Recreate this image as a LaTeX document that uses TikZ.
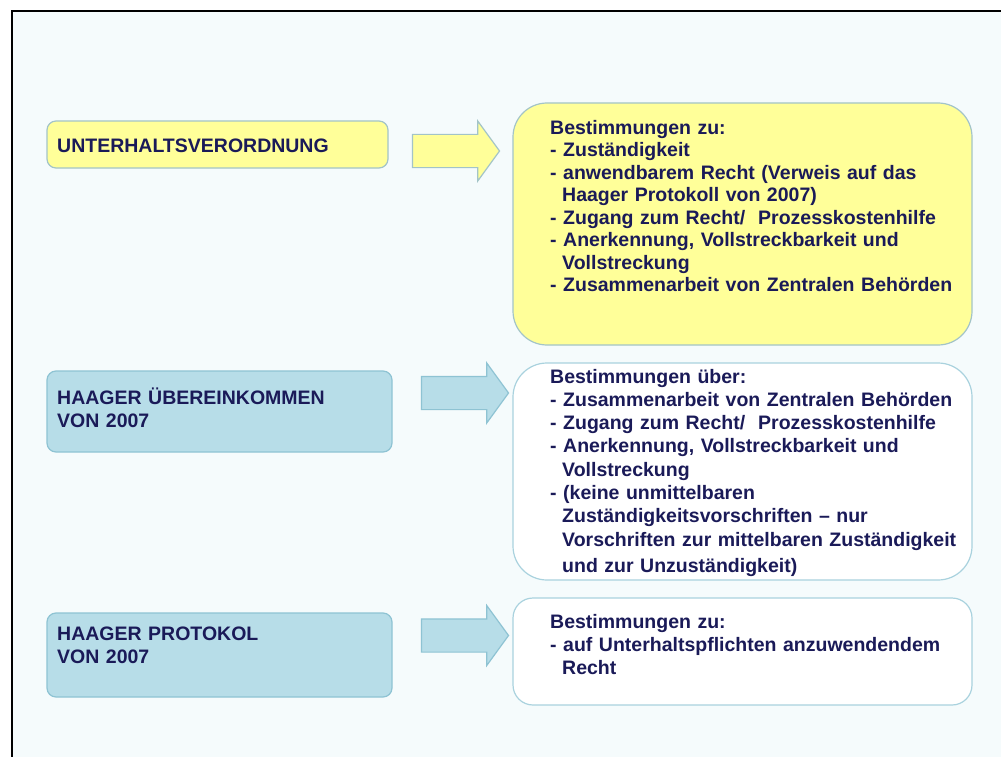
\documentclass[tikz,border=0pt]{standalone}
\usepackage{fontspec}
\setmainfont{Liberation Sans}[WordSpace=0.55]
\usetikzlibrary{shapes.arrows}
\definecolor{bgc}{HTML}{F5FBFC}
\definecolor{ylw}{HTML}{FFFF99}
\definecolor{ylwline}{HTML}{A3C4C8}
\definecolor{aqua}{HTML}{B7DDE8}
\definecolor{aqualine}{HTML}{8EC3D3}
\definecolor{whiteline}{HTML}{A9D2DE}
\definecolor{ink}{HTML}{1A1A58}
\tikzset{
  lbox/.style={draw=aqualine, fill=aqua, line width=1.2pt, rounded corners=9pt, inner sep=0pt},
  rbox/.style={draw=whiteline, fill=white, line width=1.2pt, rounded corners=34pt, inner sep=0pt},
  blockarrow/.style={single arrow, draw=aqualine, fill=aqua, line width=1.2pt, inner sep=16pt,
    single arrow head extend=13.5pt, single arrow tip angle=108, minimum height=87pt, anchor=center},
  ltxt/.style={anchor=base west, inner sep=0pt, text width=330pt, align=left, text=ink,
    font=\fontsize{19.5pt}{23pt}\selectfont\bfseries},
  rtxt/.style={anchor=base west, inner sep=0pt, text width=420pt, align=left, text=ink,
    font=\fontsize{19.5pt}{22.5pt}\selectfont\bfseries},
}
\newcommand{\ind}{\hspace*{12pt}}
\begin{document}
\begin{tikzpicture}[x=1pt,y=-1pt]
\useasboundingbox (0,0) rectangle (1001,757);
\fill[white] (0,0) rectangle (1001,757);
\fill[bgc] (12,11) rectangle (1001,757);
\draw[line width=2pt, black] (12,757) -- (12,11) -- (1001,11);

% left boxes
\node[lbox, fill=ylw, draw=ylwline, minimum width=341pt, minimum height=47pt] (l1) at (217.5,144.5) {};
\node[lbox, minimum width=345pt, minimum height=81pt] (l2) at (219.5,411.5) {};
\node[lbox, minimum width=345pt, minimum height=84pt] (l3) at (219.5,655) {};

% right boxes
\node[rbox, fill=ylw, draw=ylwline, minimum width=459pt, minimum height=242pt] (r1) at (742.5,224) {};
\node[rbox, minimum width=459pt, minimum height=217pt] (r2) at (742.5,471.5) {};
\node[rbox, rounded corners=20pt, minimum width=459pt, minimum height=107pt] (r3) at (742.5,651.5) {};

% arrows
\node[blockarrow, fill=ylw, draw=ylwline] (a1) at (450,151) {};
\node[blockarrow] (a2) at (459,393) {};
\node[blockarrow] (a3) at (459,635.5) {};

% left texts
\node[ltxt] (t1) at (57,153) {UNTERHALTSVERORDNUNG};
\node[ltxt] (t2) at (57,404) {HAAGER ÜBEREINKOMMEN\\VON 2007};
\node[ltxt] (t3) at (57,640) {HAAGER PROTOKOL\\VON 2007};

% right texts
\node[rtxt] (u1) at (550,134.5) {Bestimmungen zu:\\
- Zuständigkeit\\
- anwendbarem Recht (Verweis auf das\\
\ind Haager Protokoll von 2007)\\
- Zugang zum Recht/ \ Prozesskostenhilfe\\
- Anerkennung, Vollstreckbarkeit und\\
\ind Vollstreckung\\
- Zusammenarbeit von Zentralen Behörden};

\node[rtxt, font=\fontsize{19.5pt}{23.3pt}\selectfont\bfseries] (u2) at (550,383) {Bestimmungen über:\\
- Zusammenarbeit von Zentralen Behörden\\
- Zugang zum Recht/ \ Prozesskostenhilfe\\
- Anerkennung, Vollstreckbarkeit und\\
\ind Vollstreckung\\
- (keine unmittelbaren\\
\ind Zuständigkeitsvorschriften -- nur\\
\ind Vorschriften zur mittelbaren Zuständigkeit\\[3.5pt]
\ind und zur Unzuständigkeit)};

\node[rtxt, font=\fontsize{19.5pt}{23pt}\selectfont\bfseries] (u3) at (550,628) {Bestimmungen zu:\\
- auf Unterhaltspflichten anzuwendendem\\
\ind Recht};
\end{tikzpicture}
\end{document}
